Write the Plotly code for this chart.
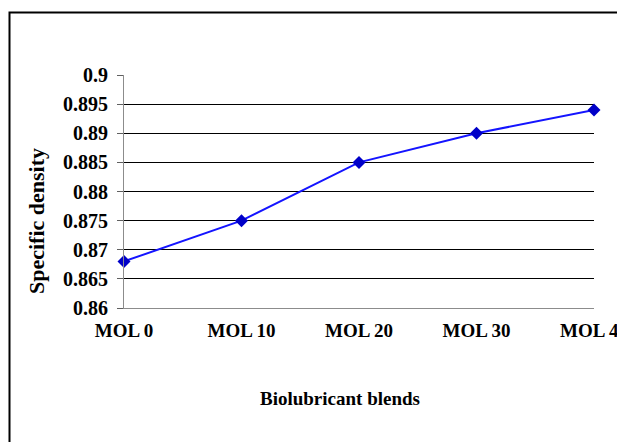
import plotly.graph_objects as go

categories = ["MOL 0", "MOL 10", "MOL 20", "MOL 30", "MOL 40"]
density = [0.868, 0.875, 0.885, 0.890, 0.894]
y_tick_vals = [0.86, 0.865, 0.87, 0.875, 0.88, 0.885, 0.89, 0.895, 0.9]
y_tick_text = ["0.86", "0.865", "0.87", "0.875", "0.88", "0.885", "0.89", "0.895", "0.9"]
grid_vals = [0.865, 0.87, 0.875, 0.88, 0.885, 0.89, 0.895]

FONT = "Liberation Serif"

fig = go.Figure()
fig.add_trace(go.Scatter(
    x=categories, y=density, mode="lines+markers",
    line=dict(color="#1414ff", width=2),
    marker=dict(symbol="diamond", size=10, color="#0000c8"),
    cliponaxis=False, showlegend=False,
))

W, H = 625, 442
OFF = 8  # page body margin
L, R, T, B = 124 - OFF, 31 + OFF, 75 - OFF, 134 + OFF
pw, ph = W - L - R, H - T - B

def px(x):
    return (x - OFF - L) / pw

def py(y):
    return (H - B - (y - OFF)) / ph

fig.update_layout(
    width=W, height=H,
    margin=dict(l=L, r=R, t=T, b=B, autoexpand=False),
    paper_bgcolor="white", plot_bgcolor="white",
    font=dict(family=FONT, size=18, color="black"),
    xaxis=dict(
        type="category", range=[0, 4], showgrid=False, zeroline=False,
        showline=True, linecolor="#8c8c8c", linewidth=1,
        ticks="", tickfont=dict(family=FONT, size=19, color="black", weight="bold"),
        ticklabelstandoff=5, automargin=False,
    ),
    yaxis=dict(
        range=[0.86, 0.9], tickmode="array", tickvals=y_tick_vals, ticktext=y_tick_text,
        showgrid=False, zeroline=False, showline=True, linecolor="#8c8c8c", linewidth=1,
        ticks="outside", ticklen=6, tickcolor="#606060",
        tickfont=dict(family=FONT, size=20, color="black", weight="bold"),
        ticklabelstandoff=5,
        minor=dict(tickvals=grid_vals, showgrid=True, gridcolor="black", gridwidth=1, ticks=""),
        automargin=False,
    ),
    shapes=[dict(
        type="rect", xref="paper", yref="paper",
        x0=px(9.5), x1=px(660), y0=py(480), y1=py(12.5),
        line=dict(color="black", width=2), fillcolor="rgba(0,0,0,0)", layer="below",
    )],
    annotations=[
        dict(text="<b>Biolubricant blends</b>", xref="paper", yref="paper",
             x=px(340), y=py(398), showarrow=False, xanchor="center", yanchor="middle",
             font=dict(family=FONT, size=19, color="black")),
        dict(text="<b>Specific density</b>", xref="paper", yref="paper",
             x=px(36), y=py(221), showarrow=False, xanchor="center", yanchor="middle",
             textangle=-90, font=dict(family=FONT, size=22, color="black")),
    ],
)

fig.write_html("out.html")
